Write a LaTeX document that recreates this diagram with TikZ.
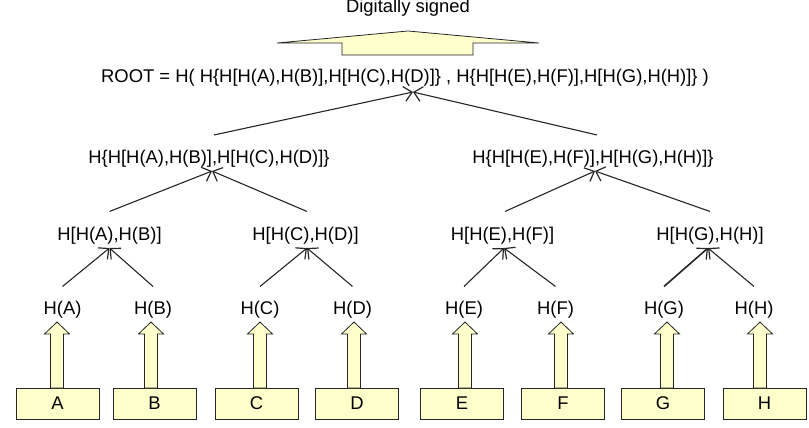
\documentclass[tikz,border=0pt]{standalone}
\usepackage{fontspec}
\setmainfont{Liberation Sans}
\usetikzlibrary{arrows.meta,calc}
\definecolor{boxfill}{HTML}{FFFFCC}
\definecolor{edge}{HTML}{262626}
\begin{document}
\begin{tikzpicture}[x=1pt,y=-1pt,
  every node/.style={font=\fontsize{18.4pt}{22pt}\selectfont, text=black},
  lbl/.style={anchor=base, inner sep=4pt},
  leaf/.style={draw=edge, fill=boxfill, minimum width=83pt, minimum height=31pt, inner sep=0pt, line width=0.8pt},
  link/.style={draw=edge, line width=1.1pt, -{Straight Barb[length=8pt,width=15pt,line width=1.2pt]}},
  blk/.style={draw=edge, fill=boxfill, line width=0.8pt, line join=miter}]
\useasboundingbox (0,0) rectangle (809,428);

% top block arrow and label
\node[lbl] (dig) at (408,13) {Digitally signed};
\draw[blk] (342,55) -- (342,43) -- (277,43) -- (408,31) -- (539,43) -- (473,43) -- (473,55) -- cycle;

% hash tree labels
\node[lbl] (root) at (405,82) {ROOT = H( H\{H[H(A),H(B)],H[H(C),H(D)]\} , H\{H[H(E),H(F)],H[H(G),H(H)]\} )};
\node[lbl] (L) at (209,163) {H\{H[H(A),H(B)],H[H(C),H(D)]\}};
\node[lbl] (R) at (593,163) {H\{H[H(E),H(F)],H[H(G),H(H)]\}};
\node[lbl] (AB) at (109.5,240) {H[H(A),H(B)]};
\node[lbl] (CD) at (305.5,240) {H[H(C),H(D)]};
\node[lbl] (EF) at (502.5,240) {H[H(E),H(F)]};
\node[lbl] (GH) at (710,240) {H[H(G),H(H)]};
\node[lbl] (hA) at (62.5,314) {H(A)};
\node[lbl] (hB) at (153,314) {H(B)};
\node[lbl] (hC) at (260,314) {H(C)};
\node[lbl] (hD) at (352.5,314) {H(D)};
\node[lbl] (hE) at (464,314) {H(E)};
\node[lbl] (hF) at (555.5,314) {H(F)};
\node[lbl] (hG) at (664,314) {H(G)};
\node[lbl] (hH) at (754,314) {H(H)};

% data blocks
\node[leaf] (A) at (57.5,403.5) {A};
\node[leaf] (B) at (154.5,403.5) {B};
\node[leaf] (C) at (256.5,403.5) {C};
\node[leaf] (D) at (357,403.5) {D};
\node[leaf] (E) at (462,403.5) {E};
\node[leaf] (F) at (563,403.5) {F};
\node[leaf] (G) at (663,403.5) {G};
\node[leaf] (H) at (764.5,403.5) {H};

% block arrows from data to hashes
\foreach \x in {57,151,260,354,465,561,667,760}{
  \draw[blk] (\x-6.5,388) -- (\x-6.5,334) -- (\x-12.5,334) -- (\x,322) -- (\x+12.5,334) -- (\x+6.5,334) -- (\x+6.5,388) -- cycle;
}

% leaf hash -> pair hash
\draw[link] ([yshift=10pt]hA.north) -- (AB.south);
\draw[link] ([yshift=10pt]hB.north) -- (AB.south);
\draw[link] ([yshift=10pt]hC.north) -- ([xshift=1.5pt]CD.south);
\draw[link] ([yshift=10pt]hD.north) -- ([xshift=1.5pt]CD.south);
\draw[link] ([yshift=10pt]hE.north) -- ([xshift=1.5pt]EF.south);
\draw[link] ([yshift=10pt]hF.north) -- ([xshift=1.5pt]EF.south);
\draw[link, line width=1.6pt] ([yshift=10pt]hG.north) -- ([xshift=-2pt]GH.south);
\draw[link] ([yshift=10pt]hH.north) -- ([xshift=-2pt]GH.south);

% pair hash -> half hash
\draw[link] ([yshift=11pt]AB.north) -- ([xshift=3pt]L.south);
\draw[link] ([xshift=1.5pt,yshift=11pt]CD.north) -- ([xshift=3pt]L.south);
\draw[link] ([xshift=2.5pt,yshift=11pt]EF.north) -- ([xshift=2pt]R.south);
\draw[link] ([yshift=11pt]GH.north) -- ([xshift=2pt]R.south);

% half hash -> root
\draw[link] ([xshift=5pt,yshift=10.5pt]L.north) -- ([xshift=8pt,yshift=-2pt]root.south);
\draw[link] ([xshift=4pt,yshift=10.5pt]R.north) -- ([xshift=8pt,yshift=-2pt]root.south);
\end{tikzpicture}
\end{document}
